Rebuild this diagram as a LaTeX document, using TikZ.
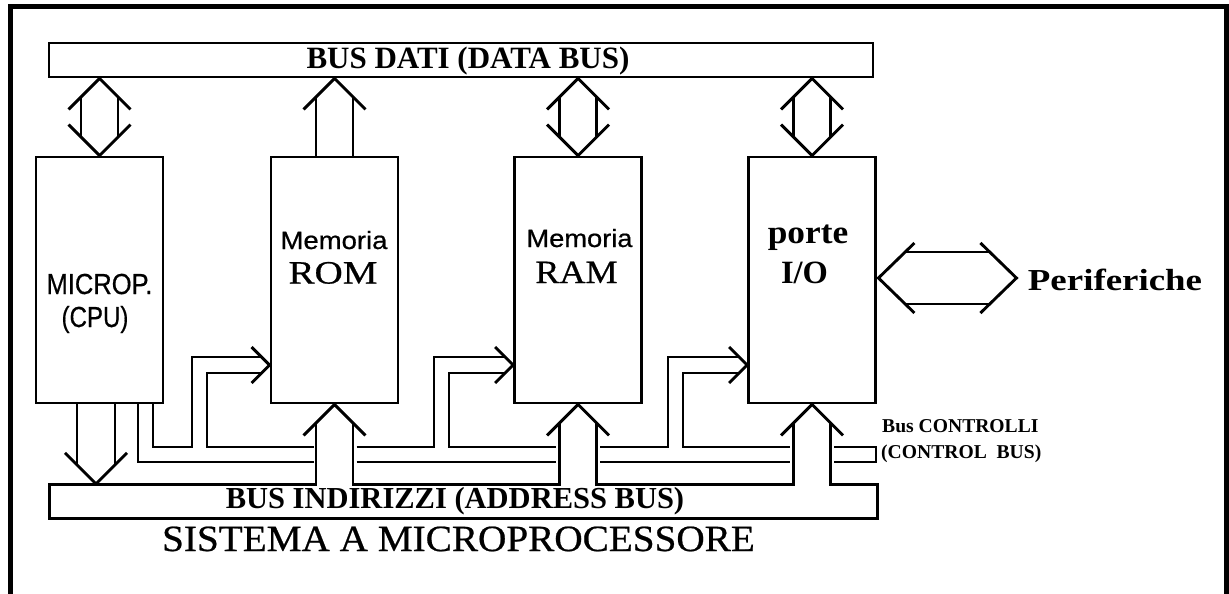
\documentclass[tikz,border=0pt]{standalone}
\usepackage{fontspec}
\setmainfont{Liberation Serif}
\newfontfamily\sansf[FakeBold=0.6]{Liberation Sans}
\newfontfamily\serifheavy[FakeBold=0.6]{Liberation Serif}
\usepackage{graphicx}
\usetikzlibrary{calc}

% horizontal stretch of a text and font size helper
\newcommand\hsc[2]{\scalebox{#1}[1]{#2}}
\newcommand\fsz[1]{\fontsize{#1}{#1}\selectfont}

% hollow double-headed vertical arrow: #1 upper tip, #2 lower tip
\newcommand\busdbl[2]{%
  \draw[ln] ($(#1)+(-31,31)$) -- (#1) -- ($(#1)+(31,31)$);
  \draw[ln] ($(#2)+(-31,-31)$) -- (#2) -- ($(#2)+(31,-31)$);
  \draw[ln] ($(#1)+(-18.5,18.5)$) -- ($(#2)+(-18.5,-18.5)$);
  \draw[ln] ($(#1)+(18.5,18.5)$) -- ($(#2)+(18.5,-18.5)$);}

\begin{document}
\begin{tikzpicture}[x=1pt,y=-1pt,
  ln/.style={line width=2.9pt, line join=miter},
  unit/.style={draw, line width=2.9pt, minimum width=127pt, minimum height=246pt, inner sep=0pt},
  lbl/.style={inner sep=0pt, anchor=base}]

\useasboundingbox (0,0) rectangle (1229,594);

% outer frame
\draw[line width=5pt] (10,610) -- (10,6.5) -- (1226.5,6.5) -- (1226.5,610);

% functional units
\node[unit] (cpu) at (99.5,280) {};
\node[unit] (rom) at (334.5,280) {};
\node[unit] (ram) at (578,280) {};
\node[unit] (io)  at (812,280) {};

% buses
\node[draw, line width=2.9pt, minimum width=824pt, minimum height=34pt, inner sep=0pt] (dbus) at (461,60) {};
\node[minimum width=827pt, minimum height=33pt, inner sep=0pt] (abus) at (463.5,501.5) {};
\coordinate (arrowlvl) at (0,365);

% data bus connections
\busdbl{cpu.north |- dbus.south}{cpu.north}
\busdbl{ram.north |- dbus.south}{ram.north}
\busdbl{io.north |- dbus.south}{io.north}
\draw[ln] ($(rom.north |- dbus.south)+(-31,31)$) -- (rom.north |- dbus.south) -- ($(rom.north |- dbus.south)+(31,31)$);
\draw[ln] ($(rom.north |- dbus.south)+(-18.5,18.5)$) -- ($(rom.north)+(-18.5,0)$);
\draw[ln] ($(rom.north |- dbus.south)+(18.5,18.5)$) -- ($(rom.north)+(18.5,0)$);

% address bus outline with the shafts rising to the memories and ports
\draw[ln] ($(rom.south)+(-18.5,18.5)$) -- ($(rom.south |- abus.north)+(-18.5,0)$) -- (abus.north west)
  -- (abus.south west) -- (abus.south east) -- (abus.north east)
  -- ($(io.south |- abus.north)+(18.5,0)$) -- ($(io.south)+(18.5,18.5)$);
\draw[ln] ($(rom.south)+(18.5,18.5)$) -- ($(rom.south |- abus.north)+(18.5,0)$)
  -- ($(ram.south |- abus.north)+(-18.5,0)$) -- ($(ram.south)+(-18.5,18.5)$);
\draw[ln] ($(ram.south)+(18.5,18.5)$) -- ($(ram.south |- abus.north)+(18.5,0)$)
  -- ($(io.south |- abus.north)+(-18.5,0)$) -- ($(io.south)+(-18.5,18.5)$);
\foreach \b in {rom,ram,io}
  \draw[ln] ($(\b.south)+(-31,31)$) -- (\b.south) -- ($(\b.south)+(31,31)$);

% CPU drives the address bus
\coordinate (cpudn) at ($(cpu.south |- abus.north)+(-3.5,-1)$);
\draw[ln] ($(cpudn)+(-31,-31)$) -- (cpudn) -- ($(cpudn)+(31,-31)$);
\draw[ln] ($(cpu.south)+(-22.5,0)$) -- ($(cpudn)+(-19,-19)$);
\draw[ln] ($(cpu.south)+(15.5,0)$) -- ($(cpudn)+(19,-19)$);

% control bus
\draw[ln] ($(cpu.south)+(38.5,0)$) -- (138,462) -- (314,462);
\draw[ln] (356.5,462) -- (556,462);
\draw[ln] (600,462) -- (790,462);
\draw[ln] (834,447) -- (876,447) -- (876,462) -- (834,462);
\draw[ln] ($(cpu.south)+(53.5,0)$) -- (153,447) -- (192,447) -- (192,357) -- ($(rom.west |- arrowlvl)+(-8,-8)$);
\draw[ln] ($(rom.west |- arrowlvl)+(-8,8)$) -- (207,373) -- (207,447) -- (314,447);
\draw[ln] (356.5,447) -- (434,447) -- (434,357) -- ($(ram.west |- arrowlvl)+(-8,-8)$);
\draw[ln] ($(ram.west |- arrowlvl)+(-8,8)$) -- (449,373) -- (449,447) -- (556,447);
\draw[ln] (600,447) -- (668,447) -- (668,357) -- ($(io.west |- arrowlvl)+(-8,-8)$);
\draw[ln] ($(io.west |- arrowlvl)+(-8,8)$) -- (683,373) -- (683,447) -- (790,447);
\foreach \b in {rom,ram,io}
  \draw[ln] ($(\b.west |- arrowlvl)+(-18,-18)$) -- (\b.west |- arrowlvl) -- ($(\b.west |- arrowlvl)+(-18,18)$);

% link to the peripherals
\coordinate (perl) at ($(io.east)+(1.5,-2)$);
\coordinate (perr) at ($(perl)+(138,0)$);
\draw[ln] ($(perl)+(36,-35)$) -- (perl) -- ($(perl)+(36,35)$);
\draw[ln] ($(perr)+(-36,-35)$) -- (perr) -- ($(perr)+(-36,35)$);
\draw[ln] ($(perl)+(26,-26)$) -- ($(perr)+(-26,-26)$);
\draw[ln] ($(perl)+(26,26)$) -- ($(perr)+(-26,26)$);

% labels
\node[lbl, font=\bfseries\fsz{31}] (dbus-t) at (468,69) {BUS DATI (DATA BUS)};
\node[lbl, font=\bfseries\fsz{30.5}] (abus-t) at (455,508) {BUS INDIRIZZI (ADDRESS BUS)};
\node[lbl, font=\serifheavy\fsz{37}] (title) at (458.5,551) {\hsc{1.06}{SISTEMA A MICROPROCESSORE}};
\node[lbl, font=\sansf\fsz{29}] (cpu-t1) at (99.5,294) {\hsc{0.88}{MICROP.}};
\node[lbl, font=\sansf\fsz{29}] (cpu-t2) at (95,327) {\hsc{0.83}{(CPU)}};
\node[lbl, font=\sansf\fsz{25}] (rom-t1) at (334,249) {\hsc{1.10}{Memoria}};
\node[lbl, font=\serifheavy\fsz{32.5}] (rom-t2) at (333,283.5) {\hsc{1.20}{ROM}};
\node[lbl, font=\sansf\fsz{25}] (ram-t1) at (579.5,247) {\hsc{1.09}{Memoria}};
\node[lbl, font=\serifheavy\fsz{32.5}] (ram-t2) at (576.5,283) {\hsc{1.11}{RAM}};
\node[lbl, font=\bfseries\fsz{33}] (io-t1) at (808,243) {\hsc{1.07}{porte}};
\node[lbl, font=\bfseries\fsz{32.5}] (io-t2) at (804.5,283) {I/O};
\node[lbl, font=\bfseries\fsz{30.5}] (per-t) at (1115,290) {\hsc{1.21}{Periferiche}};
\node[lbl, anchor=base west, font=\bfseries\fsz{19.6}] (cbus-t1) at (882,432) {Bus CONTROLLI};
\node[lbl, anchor=base west, font=\bfseries\fsz{19.6}] (cbus-t2) at (881,458) {(CONTROL\ \ BUS)};
\end{tikzpicture}
\end{document}
